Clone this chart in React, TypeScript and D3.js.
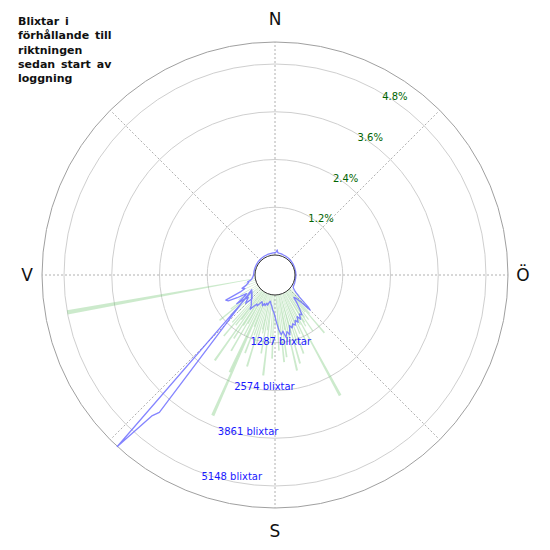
import React from "react";
import * as d3 from "d3";

const titleLines = ["Blixtar i", "förhållande till", "riktningen", "sedan start av", "loggning"];
const compassLabels = ["N", "Ö", "S", "V"];
const compassAngles = [0, 90, 180, 270];
const ringCounts = [1287, 2574, 3861, 5148];
const ringPcts = [1.2, 2.4, 3.6, 4.8];
const gridAngles = [0, 45, 90, 135, 180, 225, 270, 315];

// blue line: lightning count per direction (degrees from north, clockwise), in drawing order
const blueAngles = [0, 3, 5, 7, 10, 15, 20, 30, 40, 50, 60, 70, 80, 90, 100, 110, 115, 120, 125, 128, 130, 132, 134, 135, 136, 138, 140, 142, 144, 146, 148, 150, 152, 154, 156, 158, 160, 162, 164, 166, 168, 170, 172, 174, 176, 178, 180, 182, 184, 186, 188, 190, 192, 194, 196, 198, 200, 202, 204, 206, 208, 210, 212, 214, 216, 218, 238, 220.1, 221.1, 222.6, 235, 224, 226, 228, 230, 232, 233, 235, 237, 239, 241, 243, 244, 246, 248, 250, 252, 254, 256, 258, 260, 265, 270, 280, 290, 300, 310, 320, 330, 340, 350, 355];
const blueCounts = [60, 80, 140, 70, 60, 55, 50, 45, 40, 35, 30, 25, 25, 25, 25, 30, 35, 40, 60, 130, 200, 350, 700, 800, 500, 300, 250, 420, 600, 760, 700, 840, 730, 880, 800, 920, 860, 960, 880, 1120, 1020, 1160, 990, 1080, 940, 760, 580, 460, 400, 300, 250, 180, 220, 300, 250, 330, 280, 360, 300, 260, 340, 420, 380, 480, 600, 500, 200, 4300, 4490, 5740, 220, 350, 560, 480, 400, 550, 750, 450, 380, 650, 900, 950, 500, 350, 420, 300, 250, 200, 220, 130, 100, 60, 40, 35, 35, 35, 40, 40, 45, 50, 55, 60];

// green bars: share (%) per direction
const greenAngles = [130, 133, 135, 136, 138, 139.5, 141, 143, 145, 146, 148, 149, 151.6, 153, 155, 157, 158, 160, 162, 164.2, 165, 167, 169, 170, 171.9, 174, 176, 177, 180, 182, 184, 186.7, 188, 190, 192, 193, 195, 197, 199, 201, 202, 203.9, 205, 207, 209, 210, 212, 213, 215.2, 217, 218, 220, 222, 225, 228, 230.7, 232.5, 236, 240, 245, 250, 255, 259.8];
const greenPcts = [0.3, 0.5, 0.6, 0.7, 0.8, 1.41, 0.7, 0.9, 0.8, 1.2, 0.9, 1.0, 2.94, 0.9, 1.4, 1.1, 0.8, 1.6, 1.3, 1.81, 1.0, 1.96, 1.2, 0.9, 1.58, 1.7, 1.0, 1.4, 0.8, 1.6, 1.2, 2.04, 0.9, 1.5, 1.0, 0.9, 1.3, 1.9, 1.1, 1.6, 0.9, 3.36, 2.19, 1.2, 0.9, 1.7, 1.0, 1.4, 2.12, 0.9, 1.1, 1.5, 1.1, 0.8, 1.0, 1.3, 0.9, 0.6, 0.5, 0.4, 0.3, 0.3, 4.8];

const W = 550;
const H = 550;
const cx = 275;
const cy = 275;
const holeR = 20;
const outerR = 233;
const ringStep = 47.75;

const countScale = d3.scaleLinear().domain([0, 5148]).range([holeR, holeR + 4 * ringStep]);
const pctScale = d3.scaleLinear().domain([0, 4.8]).range([holeR, holeR + 4 * ringStep]);

const rad = (deg: number) => (deg * Math.PI) / 180;
const px = (deg: number, r: number) => cx + r * Math.sin(rad(deg));
const py = (deg: number, r: number) => cy - r * Math.cos(rad(deg));

export default function App() {
  const bluePts = blueAngles.map((a, i) => [rad(a), countScale(blueCounts[i])] as [number, number]);
  const blueLine = d3
    .lineRadial<[number, number]>()
    .angle((d) => d[0])
    .radius((d) => d[1])
    .curve(d3.curveLinearClosed)(bluePts);

  const arc = d3.arc<any>();
  const halfW = 0.6;

  return (
    <svg
      width={W}
      height={H}
      style={{ position: "absolute", left: 0, top: 0, display: "block", background: "#fff" }}
      fontFamily="DejaVu Sans, sans-serif"
    >
      <rect x={0} y={0} width={W} height={H} fill="#fff" />
      <g>
        {ringCounts.map((c) => (
          <circle key={c} cx={cx} cy={cy} r={countScale(c)} fill="none" stroke="#cfcfcf" strokeWidth={1} />
        ))}
        <circle cx={cx} cy={cy} r={outerR} fill="none" stroke="#a0a0a0" strokeWidth={1} />
        {gridAngles.map((a) => (
          <line
            key={a}
            x1={px(a, holeR)}
            y1={py(a, holeR)}
            x2={px(a, outerR)}
            y2={py(a, outerR)}
            stroke="#b0b0b0"
            strokeWidth={1}
            strokeDasharray="2,2"
          />
        ))}
      </g>
      <g transform={`translate(${cx},${cy})`}>
        {greenAngles.map((a, i) => (
          <path
            key={i}
            d={
              arc({
                innerRadius: holeR,
                outerRadius: pctScale(greenPcts[i]),
                startAngle: rad(a - halfW),
                endAngle: rad(a + halfW),
              }) as string
            }
            fill="rgb(120,200,120)"
            fillOpacity={0.38}
          />
        ))}
        <path d={blueLine as string} fill="none" stroke="rgb(110,110,255)" strokeOpacity={0.85} strokeWidth={1.3} strokeLinejoin="round" />
      </g>
      <circle cx={cx} cy={cy} r={holeR} fill="#fff" stroke="#333" strokeWidth={1} />
      {ringPcts.map((p) => (
        <text
          key={p}
          x={px(31, pctScale(p) - 3)}
          y={py(31, pctScale(p) - 3)}
          fontSize={10}
          fill="#006400"
          dominantBaseline="middle"
        >
          {`${p}%`}
        </text>
      ))}
      {ringCounts.map((c) => (
        <text
          key={c}
          x={px(200, countScale(c) + 4)}
          y={py(200, countScale(c) + 4)}
          fontSize={10}
          fill="#1a1aff"
          dominantBaseline="middle"
        >
          {`${c} blixtar`}
        </text>
      ))}
      {compassLabels.map((l, i) => {
        const a = compassAngles[i];
        const r = a % 180 === 0 ? 256 : 248;
        return (
          <text
            key={l}
            x={px(a, r)}
            y={py(a, r)}
            fontSize={17}
            fill="#111"
            textAnchor="middle"
            dominantBaseline="central"
          >
            {l}
          </text>
        );
      })}
      <text x={18} y={25} fontSize={11} fontWeight="bold" fill="#111" wordSpacing={2}>
        {titleLines.map((t, i) => (
          <tspan key={i} x={18} y={25 + i * 14.3}>
            {t}
          </tspan>
        ))}
      </text>
    </svg>
  );
}
